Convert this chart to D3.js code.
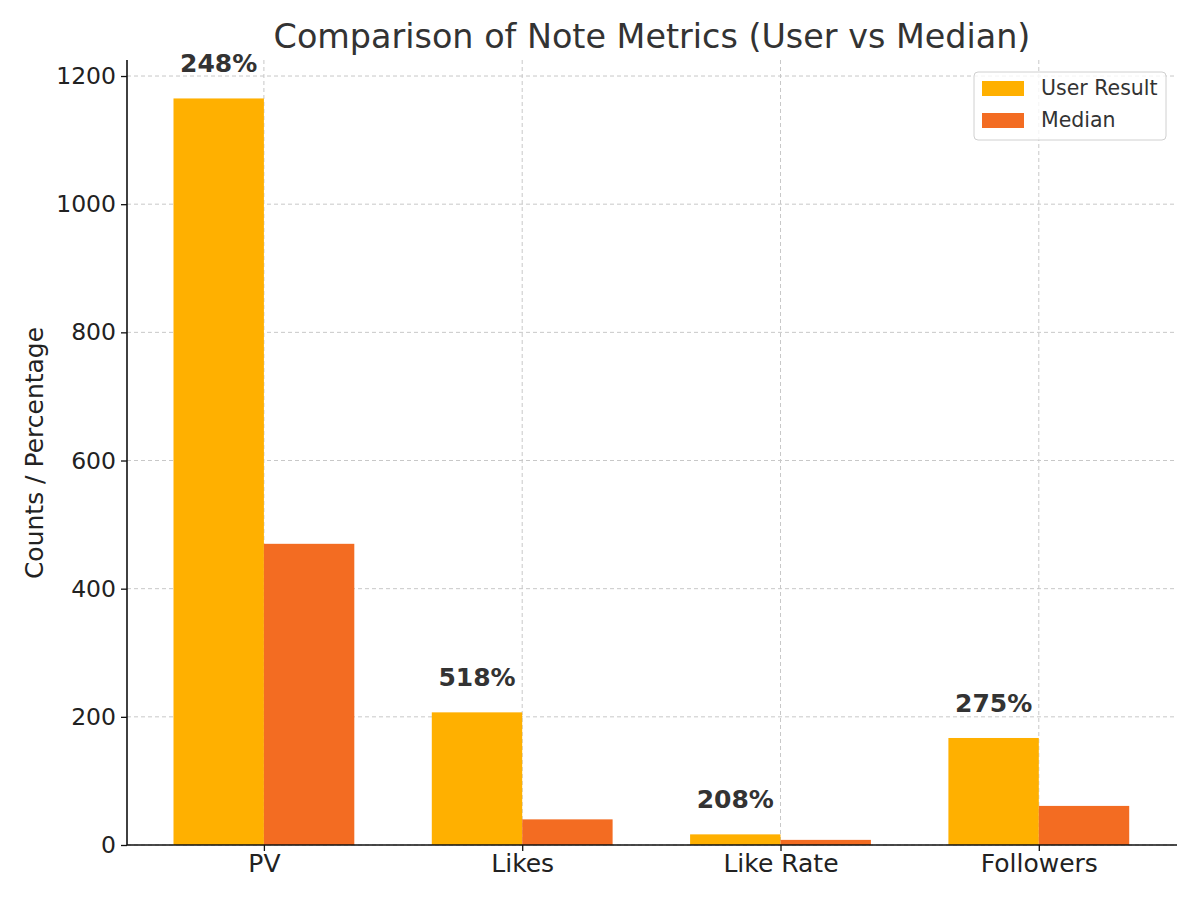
<!DOCTYPE html>
<html><head><meta charset="utf-8">
<script src="https://cdn.jsdelivr.net/npm/d3@7"></script>
<style>body{margin:0;background:#fff;} text{font-family:"DejaVu Sans",sans-serif;}</style>
</head><body>
<svg id="c" width="1200" height="900"></svg>
<script>
const categories = ["PV", "Likes", "Like Rate", "Followers"];
const userValues = [1165, 207, 16.6, 167];
const medianValues = [470, 40, 8, 61];
const pctLabels = ["248%", "518%", "208%", "275%"];
const yTicks = [0, 200, 400, 600, 800, 1000, 1200];
const seriesNames = ["User Result", "Median"];
const colors = ["#FFB000", "#F36C22"];

const svg = d3.select("#c");
const L = 127, R = 1177, T = 60, B = 845;
const bw = 0.35;
const x = d3.scaleLinear().domain([-0.355, 3.71]).range([L, R]);
const y = d3.scaleLinear().domain([0, 1225]).range([B, T]);

// grid
const g = svg.append("g");
g.selectAll(".hg").data(yTicks).enter().append("line")
  .attr("x1", L).attr("x2", R).attr("y1", d => y(d)).attr("y2", d => y(d))
  .attr("stroke", "#c8c8c8").attr("stroke-width", 1).attr("stroke-dasharray", "4,3");
g.selectAll(".vg").data(categories).enter().append("line")
  .attr("x1", (d, i) => x(i + bw / 2)).attr("x2", (d, i) => x(i + bw / 2))
  .attr("y1", T).attr("y2", B)
  .attr("stroke", "#c8c8c8").attr("stroke-width", 1).attr("stroke-dasharray", "4,3");

// bars
[userValues, medianValues].forEach((vals, s) => {
  svg.append("g").selectAll("rect").data(vals).enter().append("rect")
    .attr("x", (d, i) => x(i + s * bw - bw / 2))
    .attr("width", x(bw) - x(0))
    .attr("y", d => y(d))
    .attr("height", d => B - y(d))
    .attr("fill", colors[s]);
});

// percentage labels
svg.append("g").selectAll("text").data(pctLabels).enter().append("text")
  .attr("x", (d, i) => x(i))
  .attr("y", (d, i) => y(userValues[i]) - 26)
  .attr("text-anchor", "middle")
  .attr("font-size", 25).attr("font-weight", "bold").attr("fill", "#333")
  .text(d => d);

// axes
const yAxis = d3.axisLeft(y).tickValues(yTicks).tickFormat(d3.format("d")).tickSize(6).tickPadding(5);
const ya = svg.append("g").attr("transform", `translate(${L},0)`).call(yAxis);
ya.select(".domain").attr("stroke", "#111").attr("stroke-width", 1.6).attr("d", `M-0,${B}V${T}`);
ya.selectAll(".tick line").attr("stroke", "#111").attr("stroke-width", 1.3);
ya.selectAll(".tick text").attr("font-size", 23.5).attr("fill", "#222").attr("font-family", "DejaVu Sans");

const xAxis = d3.axisBottom(x).tickValues(categories.map((d, i) => i + bw / 2))
  .tickFormat((d, i) => categories[i]).tickSize(6).tickPadding(3);
const xa = svg.append("g").attr("transform", `translate(0,${B})`).call(xAxis);
xa.select(".domain").attr("stroke", "#111").attr("stroke-width", 1.6).attr("d", `M${L},0H${R}`);
xa.selectAll(".tick line").attr("stroke", "#111").attr("stroke-width", 1.3);
xa.selectAll(".tick text").attr("font-size", 25).attr("fill", "#222").attr("font-family", "DejaVu Sans");

// title
svg.append("text").attr("x", (L + R) / 2).attr("y", 48).attr("text-anchor", "middle")
  .attr("font-size", 33.4).attr("fill", "#333").text("Comparison of Note Metrics (User vs Median)");
// y label
svg.append("text").attr("transform", `translate(43,453) rotate(-90)`)
  .attr("text-anchor", "middle").attr("font-size", 25).attr("fill", "#222").text("Counts / Percentage");

// legend
const lg = svg.append("g").attr("transform", "translate(974,72)");
lg.append("rect").attr("width", 192).attr("height", 68).attr("rx", 4)
  .attr("fill", "#fff").attr("fill-opacity", 0.8).attr("stroke", "#d0d0d0");
seriesNames.forEach((n, i) => {
  lg.append("rect").attr("x", 8).attr("y", 9 + i * 32).attr("width", 42).attr("height", 15).attr("fill", colors[i]);
  lg.append("text").attr("x", 67).attr("y", 23 + i * 32).attr("font-size", 20.5).attr("fill", "#333").text(n);
});
</script>
</body></html>
